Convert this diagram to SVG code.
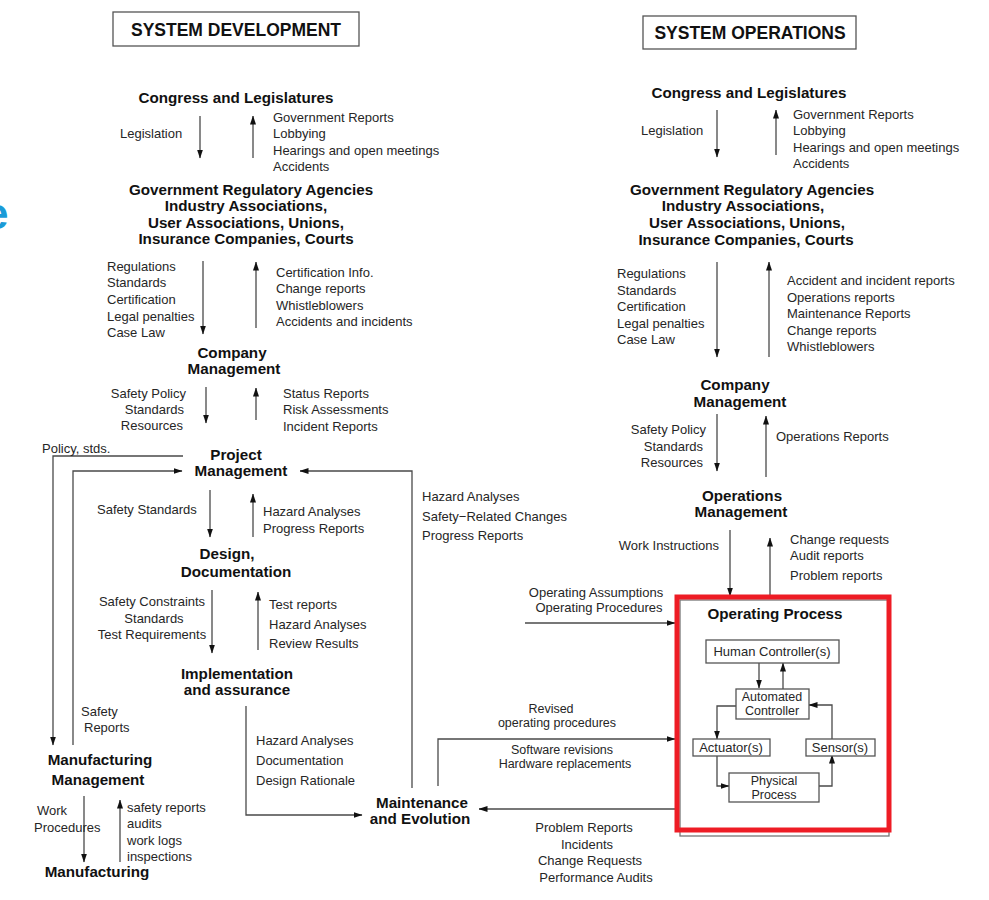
<svg xmlns="http://www.w3.org/2000/svg" width="989" height="900" viewBox="0 0 989 900">
<style>
text{font-family:"Liberation Sans",Arial,sans-serif}
.t{font-size:13px;fill:#262626}
.s{font-size:12.5px}
.b{font-size:15.2px;font-weight:bold;fill:#111}
.h{font-size:17.5px;font-weight:bold;fill:#111}
.m{text-anchor:middle}
.e{text-anchor:end}
.c{fill:none;stroke:#4a4a4a;stroke-width:1.3}
.box{fill:#fff;stroke:#555;stroke-width:1.3}
</style>
<defs>
<marker id="a" markerUnits="userSpaceOnUse" markerWidth="9" markerHeight="7" refX="8.5" refY="3.5" orient="auto">
<path d="M0,0.5 L9,3.5 L0,6.5 z" fill="#111"/>
</marker>
</defs>
<rect width="989" height="900" fill="#fff"/>
<text x="-16" y="229" style="font-size:44px;font-weight:bold;fill:#1a9bd7">e</text>

<g id="connectors">
<!-- development -->
<line class="c" x1="200" y1="116" x2="200" y2="158" marker-end="url(#a)"/>
<line class="c" x1="253" y1="158" x2="253" y2="116" marker-end="url(#a)"/>
<line class="c" x1="203" y1="261" x2="203" y2="334" marker-end="url(#a)"/>
<line class="c" x1="256" y1="328" x2="256" y2="262" marker-end="url(#a)"/>
<line class="c" x1="206" y1="387" x2="206" y2="423" marker-end="url(#a)"/>
<line class="c" x1="256" y1="420" x2="256" y2="388" marker-end="url(#a)"/>
<line class="c" x1="210" y1="490" x2="210" y2="537" marker-end="url(#a)"/>
<line class="c" x1="253" y1="537" x2="253" y2="494" marker-end="url(#a)"/>
<line class="c" x1="212" y1="590" x2="212" y2="653" marker-end="url(#a)"/>
<line class="c" x1="258" y1="650" x2="258" y2="592" marker-end="url(#a)"/>
<polyline class="c" points="183,456 53,456 53,745" marker-end="url(#a)"/>
<polyline class="c" points="73,745 73,471 182,471" marker-end="url(#a)"/>
<line class="c" x1="84" y1="796" x2="84" y2="862" marker-end="url(#a)"/>
<line class="c" x1="120" y1="862" x2="120" y2="800" marker-end="url(#a)"/>
<polyline class="c" points="246,706 246,815 362,815" marker-end="url(#a)"/>
<polyline class="c" points="412,788 412,471 300,471" marker-end="url(#a)"/>
<polyline class="c" points="438,786 438,739 675,739" marker-end="url(#a)"/>
<line class="c" x1="677" y1="809" x2="479" y2="809" marker-end="url(#a)"/>
<line class="c" x1="525" y1="623" x2="675" y2="623" marker-end="url(#a)"/>
<!-- operations -->
<line class="c" x1="717" y1="110" x2="717" y2="157" marker-end="url(#a)"/>
<line class="c" x1="776" y1="155" x2="776" y2="110" marker-end="url(#a)"/>
<line class="c" x1="717" y1="262" x2="717" y2="357" marker-end="url(#a)"/>
<line class="c" x1="769" y1="357" x2="769" y2="262" marker-end="url(#a)"/>
<line class="c" x1="717" y1="414" x2="717" y2="471" marker-end="url(#a)"/>
<line class="c" x1="766" y1="477" x2="766" y2="416" marker-end="url(#a)"/>
<line class="c" x1="730" y1="530" x2="730" y2="596" marker-end="url(#a)"/>
<line class="c" x1="770" y1="596" x2="770" y2="538" marker-end="url(#a)"/>
<!-- inner loop -->
<line class="c" x1="759" y1="663" x2="759" y2="688" marker-end="url(#a)"/>
<line class="c" x1="783" y1="689" x2="783" y2="663" marker-end="url(#a)"/>
<polyline class="c" points="736,706 717,706 717,739" marker-end="url(#a)"/>
<polyline class="c" points="832,739 832,705 809,705" marker-end="url(#a)"/>
<polyline class="c" points="717,755 717,786 729,786" marker-end="url(#a)"/>
<polyline class="c" points="819,786 832,786 832,755" marker-end="url(#a)"/>
</g>

<g id="sysdev">
<rect class="box" x="113" y="12" width="246" height="34"/>
<text class="h m" x="236" y="36">SYSTEM DEVELOPMENT</text>
</g>
<g id="sysops">
<rect class="box" x="643" y="16" width="213" height="33"/>
<text class="h m" x="750" y="39">SYSTEM OPERATIONS</text>
</g>

<!-- development column -->
<g id="dev-congress"><text class="b m" x="236" y="103">Congress and Legislatures</text></g>
<g id="dev-leg-labels">
<text class="t" x="120" y="138">Legislation</text>
<text class="t" x="273" y="122">Government Reports</text>
<text class="t" x="273" y="138">Lobbying</text>
<text class="t" x="273" y="155">Hearings and open meetings</text>
<text class="t" x="273" y="171">Accidents</text>
</g>
<g id="dev-agencies">
<text class="b m" x="251" y="195">Government Regulatory Agencies</text>
<text class="b m" x="246" y="211">Industry Associations,</text>
<text class="b m" x="246" y="228">User Associations, Unions,</text>
<text class="b m" x="246" y="244">Insurance Companies, Courts</text>
</g>
<g id="dev-reg-labels">
<text class="t" x="107" y="271">Regulations</text>
<text class="t" x="107" y="287">Standards</text>
<text class="t" x="107" y="304">Certification</text>
<text class="t" x="107" y="321">Legal penalties</text>
<text class="t" x="107" y="337">Case Law</text>
<text class="t" x="276" y="277">Certification Info.</text>
<text class="t" x="276" y="293">Change reports</text>
<text class="t" x="276" y="310">Whistleblowers</text>
<text class="t" x="276" y="326">Accidents and incidents</text>
</g>
<g id="dev-company">
<text class="b m" x="232" y="358">Company</text>
<text class="b m" x="234" y="374">Management</text>
</g>
<g id="dev-company-labels">
<text class="t e" x="186" y="398">Safety Policy</text>
<text class="t e" x="184" y="414">Standards</text>
<text class="t e" x="183" y="430">Resources</text>
<text class="t" x="283" y="398">Status Reports</text>
<text class="t" x="283" y="414">Risk Assessments</text>
<text class="t" x="283" y="431">Incident Reports</text>
</g>
<g id="dev-project">
<text class="b m" x="236" y="460">Project</text>
<text class="b m" x="241" y="476">Management</text>
</g>
<g id="dev-project-labels">
<text class="t" x="42" y="453">Policy, stds.</text>
<text class="t" x="97" y="514">Safety Standards</text>
<text class="t" x="263" y="516">Hazard Analyses</text>
<text class="t" x="263" y="533">Progress Reports</text>
<text class="t" x="422" y="501">Hazard Analyses</text>
<text class="t" x="422" y="521">Safety−Related Changes</text>
<text class="t" x="422" y="540">Progress Reports</text>
</g>
<g id="dev-design">
<text class="b m" x="227" y="559">Design,</text>
<text class="b m" x="236" y="577">Documentation</text>
</g>
<g id="dev-design-labels">
<text class="t m" x="152" y="606">Safety Constraints</text>
<text class="t m" x="154" y="623">Standards</text>
<text class="t m" x="152" y="639">Test Requirements</text>
<text class="t" x="269" y="609">Test reports</text>
<text class="t" x="269" y="629">Hazard Analyses</text>
<text class="t" x="269" y="648">Review Results</text>
</g>
<g id="dev-impl">
<text class="b m" x="237" y="679">Implementation</text>
<text class="b m" x="237" y="695">and assurance</text>
</g>
<g id="dev-impl-labels">
<text class="t" x="81" y="716">Safety</text>
<text class="t" x="84" y="732">Reports</text>
<text class="t" x="256" y="745">Hazard Analyses</text>
<text class="t" x="256" y="765">Documentation</text>
<text class="t" x="256" y="785">Design Rationale</text>
</g>
<g id="dev-mfgmgmt">
<text class="b m" x="100" y="765">Manufacturing</text>
<text class="b m" x="98" y="785">Management</text>
</g>
<g id="dev-mfg-labels">
<text class="t" x="37" y="815">Work</text>
<text class="t" x="34" y="832">Procedures</text>
<text class="t" x="127" y="812">safety reports</text>
<text class="t" x="127" y="828">audits</text>
<text class="t" x="127" y="845">work logs</text>
<text class="t" x="127" y="861">inspections</text>
</g>
<g id="dev-mfg"><text class="b m" x="97" y="877">Manufacturing</text></g>
<g id="maintenance">
<text class="b m" x="422" y="808">Maintenance</text>
<text class="b m" x="420" y="824">and Evolution</text>
</g>

<!-- operations column -->
<g id="ops-congress"><text class="b m" x="749" y="98">Congress and Legislatures</text></g>
<g id="ops-leg-labels">
<text class="t" x="641" y="135">Legislation</text>
<text class="t" x="793" y="119">Government Reports</text>
<text class="t" x="793" y="135">Lobbying</text>
<text class="t" x="793" y="152">Hearings and open meetings</text>
<text class="t" x="793" y="168">Accidents</text>
</g>
<g id="ops-agencies">
<text class="b m" x="752" y="195">Government Regulatory Agencies</text>
<text class="b m" x="743" y="211">Industry Associations,</text>
<text class="b m" x="747" y="228">User Associations, Unions,</text>
<text class="b m" x="746" y="245">Insurance Companies, Courts</text>
</g>
<g id="ops-reg-labels">
<text class="t" x="617" y="278">Regulations</text>
<text class="t" x="617" y="295">Standards</text>
<text class="t" x="617" y="311">Certification</text>
<text class="t" x="617" y="328">Legal penalties</text>
<text class="t" x="617" y="344">Case Law</text>
<text class="t" x="787" y="285">Accident and incident reports</text>
<text class="t" x="787" y="302">Operations reports</text>
<text class="t" x="787" y="318">Maintenance Reports</text>
<text class="t" x="787" y="335">Change reports</text>
<text class="t" x="787" y="351">Whistleblowers</text>
</g>
<g id="ops-company">
<text class="b m" x="735" y="390">Company</text>
<text class="b m" x="740" y="407">Management</text>
</g>
<g id="ops-company-labels">
<text class="t e" x="706" y="434">Safety Policy</text>
<text class="t e" x="703" y="451">Standards</text>
<text class="t e" x="703" y="467">Resources</text>
<text class="t" x="776" y="441">Operations Reports</text>
</g>
<g id="ops-mgmt">
<text class="b m" x="742" y="501">Operations</text>
<text class="b m" x="741" y="517">Management</text>
</g>
<g id="ops-mgmt-labels">
<text class="t e" x="719" y="550">Work Instructions</text>
<text class="t" x="790" y="544">Change requests</text>
<text class="t" x="790" y="560">Audit reports</text>
<text class="t" x="790" y="580">Problem reports</text>
</g>
<g id="ops-side-labels">
<text class="t m" x="596" y="597">Operating Assumptions</text>
<text class="t m" x="599" y="612">Operating Procedures</text>
<text class="t s m" x="551" y="713">Revised</text>
<text class="t s m" x="557" y="727">operating procedures</text>
<text class="t s m" x="562" y="754">Software revisions</text>
<text class="t s m" x="565" y="768">Hardware replacements</text>
<text class="t m" x="584" y="832">Problem Reports</text>
<text class="t m" x="587" y="849">Incidents</text>
<text class="t m" x="590" y="865">Change Requests</text>
<text class="t m" x="596" y="882">Performance Audits</text>
</g>

<g id="operating-process">
<rect x="680" y="600" width="209" height="236" fill="none" stroke="#777" stroke-width="1.3"/>
<rect x="677" y="597" width="212" height="233" fill="none" stroke="#ee1c25" stroke-width="5"/>
<text class="b m" x="775" y="619">Operating Process</text>
</g>
<g id="human-controller">
<rect class="box" x="706" y="640" width="133" height="23"/>
<text class="t m" x="772" y="656">Human Controller(s)</text>
</g>
<g id="automated-controller">
<rect class="box" x="736" y="689" width="73" height="30"/>
<text class="t s m" x="772" y="701">Automated</text>
<text class="t s m" x="772" y="715">Controller</text>
</g>
<g id="actuators">
<rect class="box" x="693" y="739" width="77" height="17"/>
<text class="t m" x="731" y="752">Actuator(s)</text>
</g>
<g id="sensors">
<rect class="box" x="806" y="739" width="69" height="17"/>
<text class="t m" x="840" y="752">Sensor(s)</text>
</g>
<g id="physical-process">
<rect class="box" x="729" y="773" width="90" height="29"/>
<text class="t s m" x="774" y="785">Physical</text>
<text class="t s m" x="774" y="799">Process</text>
</g>
</svg>
